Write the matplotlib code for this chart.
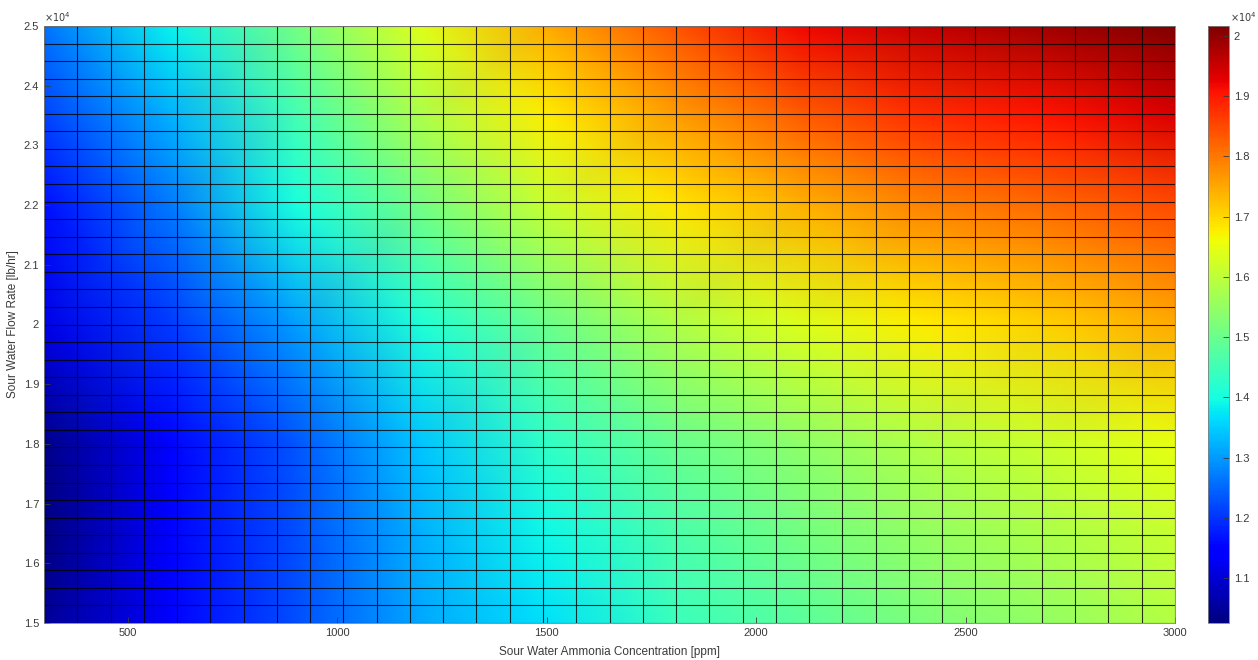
import numpy as np
import matplotlib
matplotlib.use("Agg")
import matplotlib.pyplot as plt

# ---- data (values in lb/hr-type units, colour value) ----
x_ppm = [300, 600, 900, 1200, 1500, 1800, 2100, 2400, 2700, 3000]
y_flow = [15000, 16500, 18000, 20000, 22000, 23500, 25000]
z_row_15000 = [10452, 11394, 12236, 13128, 13674, 14417, 14814, 15210, 15507, 15904]
z_row_16500 = [10254, 11344, 12236, 13228, 13921, 14615, 15111, 15507, 15805, 16102]
z_row_18000 = [10353, 11493, 12336, 13426, 14318, 14962, 15408, 15854, 16152, 16499]
z_row_20000 = [11146, 12038, 13029, 14120, 15012, 15805, 16350, 16796, 17093, 17490]
z_row_22000 = [11642, 12682, 14021, 15111, 16102, 16846, 17391, 17886, 18184, 18481]
z_row_23500 = [12137, 13228, 14516, 15805, 16796, 17589, 18283, 18778, 19076, 19373]
z_row_25000 = [12633, 13822, 15111, 16400, 17490, 18382, 19175, 19571, 19869, 20166]

x_ticks = [500, 1000, 1500, 2000, 2500, 3000]
x_tick_labels = ["500", "1000", "1500", "2000", "2500", "3000"]
y_ticks = [15000, 16000, 17000, 18000, 19000, 20000, 21000, 22000, 23000, 24000, 25000]
y_tick_labels = ["1.5", "1.6", "1.7", "1.8", "1.9", "2", "2.1", "2.2", "2.3", "2.4", "2.5"]
cb_ticks = [11000, 12000, 13000, 14000, 15000, 16000, 17000, 18000, 19000, 20000]
cb_tick_labels = ["1.1", "1.2", "1.3", "1.4", "1.5", "1.6", "1.7", "1.8", "1.9", "2"]
mesh_count = 35  # number of mesh lines in each direction

plt.rcParams['font.family'] = ['Liberation Sans', 'DejaVu Sans']
txt = '#3a3a3a'

Z = np.array([z_row_15000, z_row_16500, z_row_18000, z_row_20000,
              z_row_22000, z_row_23500, z_row_25000])
X, Y = np.meshgrid(x_ppm, y_flow)
vmin, vmax = Z.min(), Z.max()

fig = plt.figure(figsize=(12.58, 6.60), dpi=100)
ax = fig.add_axes([44/1258, 37/660, (1175-44)/1258, (623-26)/660])
cax = fig.add_axes([1208/1258, 37/660, 21/1258, (623-26)/660])

m = ax.pcolormesh(X, Y, Z, shading='gouraud', cmap='jet', vmin=vmin, vmax=vmax)

xg = np.linspace(min(x_ppm), max(x_ppm), mesh_count)
yg = np.linspace(min(y_flow), max(y_flow), mesh_count)
ax.vlines(xg, min(y_flow), max(y_flow), colors='black', linewidth=0.8, alpha=0.8)
ax.hlines(yg, min(x_ppm), max(x_ppm), colors='black', linewidth=0.8, alpha=0.8)

ax.set_xlim(min(x_ppm), max(x_ppm))
ax.set_ylim(min(y_flow), max(y_flow))
ax.set_xticks(x_ticks)
ax.set_xticklabels(x_tick_labels)
ax.set_yticks(y_ticks)
ax.set_yticklabels(y_tick_labels)
ax.tick_params(direction='in', length=4, labelsize=8, colors=txt, width=0.6)
for s in ax.spines.values():
    s.set_color('#808080')
    s.set_linewidth(0.6)
ax.set_xlabel('Sour Water Ammonia Concentration [ppm]', fontsize=8.5, color=txt, labelpad=6)
ax.set_ylabel('Sour Water Flow Rate [lb/hr]', fontsize=8.5, color=txt, labelpad=3)
ax.text(0.0, 1.004, r'$\times10^4$', transform=ax.transAxes, fontsize=7, color=txt,
        ha='left', va='bottom')

cb = fig.colorbar(m, cax=cax)
cb.set_ticks(cb_ticks)
cb.set_ticklabels(cb_tick_labels)
cax.tick_params(direction='in', length=4, labelsize=8, colors=txt, width=0.6)
cb.outline.set_edgecolor('#808080')
cb.outline.set_linewidth(0.6)
cax.text(1.05, 1.004, r'$\times10^4$', transform=cax.transAxes, fontsize=7, color=txt,
         ha='left', va='bottom')

fig.savefig('out.png', dpi=100)
